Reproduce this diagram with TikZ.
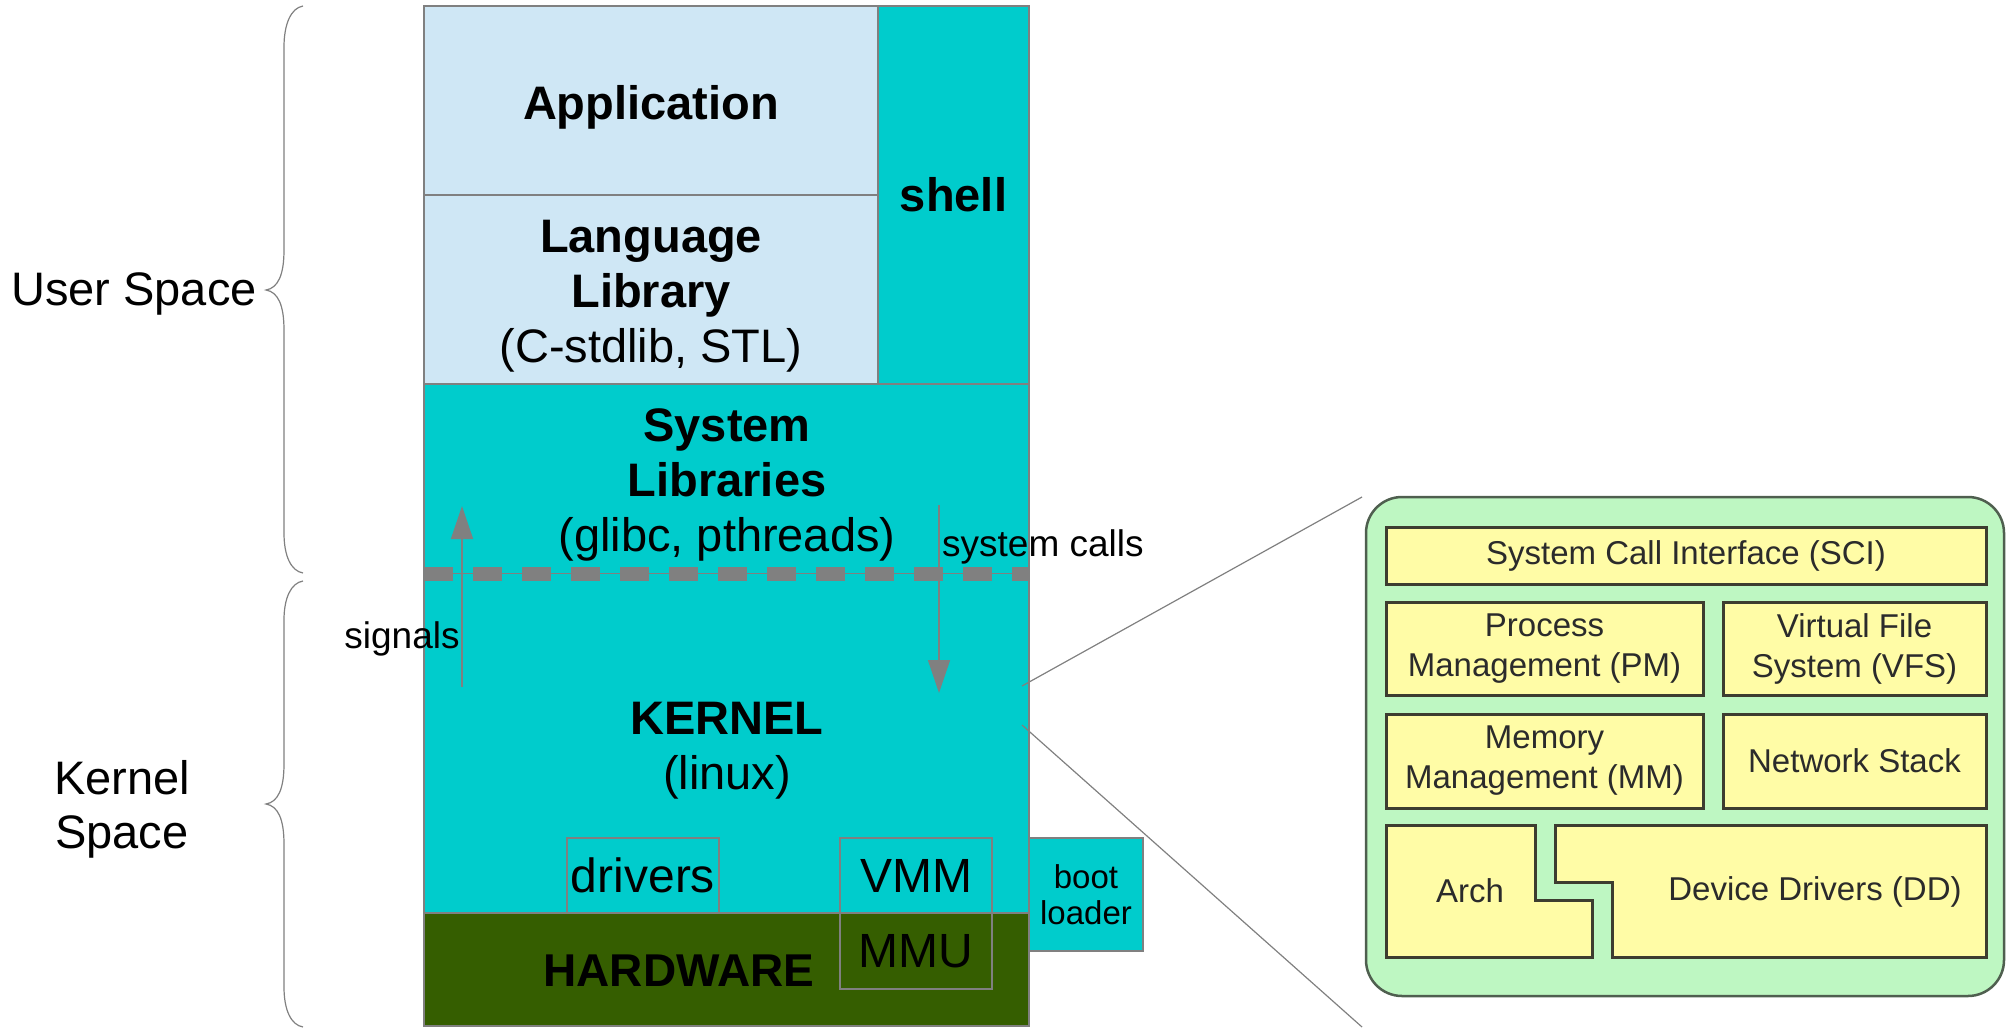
\documentclass[tikz,border=0pt]{standalone}
\usepackage{fontspec}
\setmainfont{Liberation Sans}
\usetikzlibrary{arrows.meta}

\definecolor{paleblue}{HTML}{CFE7F5}
\definecolor{turq}{HTML}{00CCCC}
\definecolor{hwgreen}{HTML}{355E00}
\definecolor{edgegray}{HTML}{808080}
\definecolor{panelgreen}{HTML}{BEF7C2}
\definecolor{paneledge}{HTML}{4F5F4F}
\definecolor{boxyellow}{HTML}{FFFCA6}
\definecolor{boxedge}{HTML}{3D3D30}
\definecolor{paneltext}{HTML}{2B2B2B}

\tikzset{
  layer/.style={draw=edgegray, line width=1.4pt, inner sep=0pt, outer sep=0pt,
    anchor=north west, align=center},
  frame/.style={draw=edgegray, line width=1.4pt, inner sep=0pt, outer sep=0pt,
    anchor=north west, font=\fontsize{48}{55}\selectfont},
  bigtext/.style={font=\fontsize{47}{55}\selectfont, align=center, inner sep=0pt},
  midtext/.style={font=\fontsize{37}{42}\selectfont, inner sep=0pt},
  brace line/.style={draw=edgegray, line width=1.2pt},
  flow/.style={draw=edgegray, line width=1.5pt, -{Triangle[length=33pt,width=22pt]}},
  zoomline/.style={draw=edgegray, line width=1.2pt},
  unit/.style={draw=boxedge, line width=3pt, fill=boxyellow, inner sep=0pt,
    outer sep=0pt, anchor=north west, align=center,
    font=\fontsize{33}{40}\selectfont, text=paneltext},
  unitshape/.style={draw=boxedge, line width=3pt, fill=boxyellow},
  paneltxt/.style={font=\fontsize{33}{40}\selectfont, text=paneltext, inner sep=0pt},
}

\begin{document}
\begin{tikzpicture}[x=1pt, y=-1pt]
\useasboundingbox (0,0) rectangle (2016,1028);

% ---- layered stack ----
\node[layer, fill=turq, minimum width=605pt, minimum height=529pt] (kernel) at (424,384) {};
\node[layer, fill=hwgreen, minimum width=605pt, minimum height=113pt] (hw) at (424,913) {};
\node[layer, fill=paleblue, minimum width=454pt, minimum height=189pt] (app) at (424,6) {};
\node[layer, fill=paleblue, minimum width=454pt, minimum height=189pt] (lang) at (424,195) {};
\node[layer, fill=turq, minimum width=151pt, minimum height=378pt,
  font=\fontsize{47}{55}\selectfont\bfseries] (shell) at (878,6) {shell};
\node[layer, fill=turq, minimum width=114pt, minimum height=113pt,
  font=\fontsize{33}{36}\selectfont] (boot) at (1029,838) {boot\\loader};

\node[frame, minimum width=152pt, minimum height=75pt] (drivers) at (567,838) {drivers};
\node[frame, minimum width=152pt, minimum height=75pt] (vmm) at (840,838) {VMM};
\node[frame, minimum width=152pt, minimum height=76pt] (mmu) at (840,913) {MMU};

\node[bigtext] (apptext) at (651,107) {\textbf{Application}};
\node[bigtext] (langtext) at (651,296) {\textbf{Language}\\\textbf{Library}\\(C-stdlib, STL)};
\node[bigtext] (syslib) at (727,485) {\textbf{System}\\\textbf{Libraries}\\(glibc, pthreads)};
\node[bigtext] (kern) at (727,751) {\textbf{KERNEL}\\(linux)};
\node[font=\fontsize{46}{55}\selectfont\bfseries, inner sep=0pt] (hwtext) at (679,971) {HARDWARE};

% ---- user/kernel boundary ----
\coordinate (bndL) at (424,573.5);
\coordinate (bndR) at (1029,573.5);
\draw[edgegray, line width=1.5pt] (bndL) -- (bndR);
\draw[edgegray, line width=14pt, dash pattern=on 29pt off 20pt] (bndL) -- (bndR);

% ---- signals and system calls ----
\coordinate (sigfrom) at (462,687);
\coordinate (sigto) at (462,506);
\draw[flow] (sigfrom) -- (sigto);
\coordinate (scfrom) at (939,505);
\coordinate (scto) at (939,693);
\draw[flow] (scfrom) -- (scto);
\node[midtext] (signals) at (402,639) {signals};
\node[midtext, anchor=west] (syscalls) at (942,547) {system calls};

% ---- space braces ----
\draw[brace line] (303,6) .. controls (291,8) and (284,24) .. (284,47)
  -- (284,250) .. controls (284,275) and (278,288) .. (266,290)
  .. controls (278,292) and (284,305) .. (284,330)
  -- (284,533) .. controls (284,556) and (291,571) .. (303,573);
\draw[brace line] (303,581) .. controls (291,583) and (284,598) .. (284,620)
  -- (284,764) .. controls (284,789) and (278,802) .. (266,804)
  .. controls (278,806) and (284,819) .. (284,844)
  -- (284,987) .. controls (284,1010) and (291,1025) .. (303,1027);
\node[bigtext] (userspace) at (134,294) {User Space};
\node[bigtext, font=\fontsize{47}{54}\selectfont] (kernelspace) at (122,809) {Kernel\\Space};

% ---- kernel detail panel ----
\coordinate (zA) at (1022,686);
\coordinate (zB) at (1362,497);
\coordinate (zC) at (1022,725);
\coordinate (zD) at (1362,1027);
\draw[zoomline] (zA) -- (zB);
\draw[zoomline] (zC) -- (zD);

\node[draw=paneledge, line width=2.5pt, fill=panelgreen, rounded corners=36pt,
  minimum width=638pt, minimum height=499pt, anchor=north west, inner sep=0pt,
  outer sep=0pt] (panel) at (1366,497) {};

\node[unit, minimum width=600pt, minimum height=57pt] (sci) at (1386,527) {System Call Interface (SCI)};
\node[unit, minimum width=317pt, minimum height=93pt] (pm) at (1386,602) {Process\\Management (PM)};
\node[unit, minimum width=263pt, minimum height=93pt] (vfs) at (1723,602) {Virtual File\\System (VFS)};
\node[unit, minimum width=317pt, minimum height=94pt] (mm) at (1386,714) {Memory\\Management (MM)};
\node[unit, minimum width=263pt, minimum height=94pt] (net) at (1723,714) {Network Stack};

\draw[unitshape] (1386,825) -- (1535,825) -- (1535,900) -- (1592,900)
  -- (1592,957) -- (1386,957) -- cycle;
\draw[unitshape] (1555,825) -- (1986,825) -- (1986,957) -- (1612,957)
  -- (1612,882) -- (1555,882) -- cycle;
\node[paneltxt] (arch) at (1470,891) {Arch};
\node[paneltxt] (dd) at (1815,892) {Device Drivers (DD)};
\end{tikzpicture}
\end{document}
